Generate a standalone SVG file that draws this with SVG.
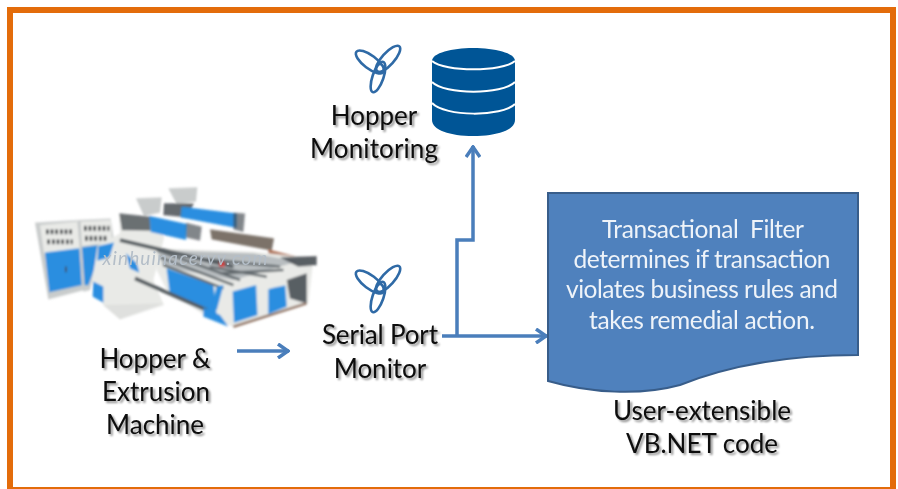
<svg xmlns="http://www.w3.org/2000/svg" width="898" height="489" viewBox="0 0 898 489">
<style>
.lb{font-family:Lato,"Open Sans",sans-serif;font-size:26px;fill:#0a0a0a;text-anchor:middle;filter:url(#sh)}
.wt{font-family:Lato,"Open Sans",sans-serif;font-size:24.5px;fill:#eef3f9;text-anchor:middle;white-space:pre}
.cn{fill:none;stroke:#4a7ebb;stroke-width:3.5}
.kn{fill:none;stroke:#2f6aa6;stroke-width:2.6}
.bl{fill:#2a8ee0}.gy{fill:#c9cccc}.wh{fill:#e9eae7}.dk{fill:#3f454b}
</style>
<defs>
<filter id="sh" x="-10%" y="-20%" width="120%" height="150%"><feGaussianBlur in="SourceAlpha" stdDeviation="1.2"/><feOffset dx="1.5" dy="1.5"/><feComponentTransfer><feFuncA type="linear" slope="0.45"/></feComponentTransfer><feMerge><feMergeNode/><feMergeNode in="SourceGraphic"/></feMerge></filter>
<filter id="bl" filterUnits="userSpaceOnUse" x="0" y="0" width="920" height="510"><feGaussianBlur stdDeviation="3.5"/></filter>
<marker id="ah" viewBox="0 0 14 16" refX="13" refY="8" markerWidth="14" markerHeight="16" markerUnits="userSpaceOnUse" orient="auto"><path d="M2 1L12 8L2 15" fill="none" stroke="#4a7ebb" stroke-width="3.5"/></marker>
<g id="knot"><ellipse cx="-10" cy="-7" rx="17" ry="6.5" transform="rotate(37 -10 -7)" class="kn"/><ellipse cx="8" cy="-10" rx="17" ry="6" transform="rotate(-48 8 -10)" class="kn"/><ellipse cx="-2" cy="8" rx="5.5" ry="16" transform="rotate(19 -2 8)" class="kn"/><circle cx="0" cy="-1" r="3.5" fill="none" stroke="#2f6aa6" stroke-width="1.5"/></g>
</defs>
<rect width="898" height="489" fill="#fff"/>
<rect id="frame" x="10" y="10" width="883" height="480" fill="none" stroke="#e36c0a" stroke-width="6"/>

<g id="machine"><g transform="translate(20 170) scale(.33333)" filter="url(#bl)">
<path class="gy" d="M45 158L172 150L192 360L85 388Z"/><path class="wh" d="M60 165L172 155L180 240L72 250Z"/>
<path class="gy" d="M172 150L272 146L282 210L240 225L210 360L190 365Z"/><path class="wh" d="M182 155L272 150L276 215L186 228Z"/>
<path class="bl" d="M75 248L178 235L185 345L88 366Z"/><path class="bl" d="M186 232L232 226L222 300L205 345L194 345Z"/>
<path class="dk" d="M135 290h5v16h-5z"/>
<path d="M78 185h78M82 215h76M192 175h76M195 205h68" stroke="#2d3236" stroke-width="13" stroke-dasharray="8 6" fill="none"/>
<path class="wh" d="M296 130L420 150L432 205L400 330L432 405L300 448L250 405L215 335L235 225L300 190Z"/>
<path fill="#dfe0de" d="M250 405L432 400L300 448Z"/>
<path class="bl" d="M220 335L250 350L250 398L218 380Z"/><path class="bl" d="M235 228L282 218L268 262L232 272Z"/><path class="bl" d="M318 250L350 280L358 308L330 295Z"/>
<path class="gy" d="M348 85L425 82L420 128L372 138Z"/><path class="gy" d="M445 55L532 52L528 95L470 102Z"/>
<path class="dk" d="M298 130L392 140L392 182L306 180Z" opacity=".75"/><path class="dk" d="M432 100L522 100L500 142L430 135Z" opacity=".8"/>
<path class="bl" d="M388 138L500 162L498 210L392 186Z"/><path class="bl" d="M485 110L650 130L650 174L482 142Z"/>
<path class="dk" d="M498 158L545 170L540 212L498 202Z" opacity=".65"/><path class="dk" d="M640 128L675 130L670 186L640 178Z" opacity=".65"/>
<path fill="#7c7269" d="M570 178L762 205L755 242L575 208Z"/><path fill="#b0745a" d="M745 238L838 262L835 280L745 258Z"/>
<path class="wh" d="M405 235L700 245L880 265L865 400L640 470L560 440L440 360L410 300Z"/>
<path class="bl" d="M440 295L580 345L590 440L450 375Z"/>
<path fill="#b8bdc0" d="M410 240L700 250L830 275L640 330L430 290Z"/>
<path d="M410 240L660 330M420 262L640 345M430 285L610 355M560 268L780 290M570 290L740 320M600 310L790 300" stroke="#5f666a" stroke-width="7" fill="none"/>
<path d="M300 210L640 290M345 325L560 420" stroke="#555c60" stroke-width="11" fill="none"/>
<path class="bl" d="M638 365L708 345L712 435L642 458Z"/><path class="bl" d="M745 358L795 340L800 410L745 432Z"/><path class="bl" d="M550 412L600 435L625 470L550 440Z"/><path class="bl" d="M590 350L610 345L590 420L575 410Z"/>
<path class="dk" d="M800 330L860 310L860 400L810 385Z" opacity=".85"/><path class="wh" d="M722 340L800 325L802 345L725 360Z"/>
<path fill="#d23b3b" d="M598 275h16v15h-16z"/>
<path class="dk" d="M780 262L890 258L890 285L835 290Z" opacity=".85"/>
<path d="M640 470L860 400" stroke="#8a6a58" stroke-width="7" fill="none"/>
</g>
<text x="185" y="265" font-family="Lato,sans-serif" font-size="19" font-style="italic" fill="#b4bec8" text-anchor="middle" textLength="165">xinhuinacervv.com</text></g>

<g id="connectors">
<path class="cn" d="M237 351H289" marker-end="url(#ah)"/>
<path class="cn" d="M442 336H547" marker-end="url(#ah)"/>
<path class="cn" d="M457 336V240H473V146" marker-end="url(#ah)"/>
</g>

<g id="hopper-monitoring"><use href="#knot" x="380" y="69"/>
<text class="lb" x="374" y="125">Hopper</text><text class="lb" x="374" y="158" textLength="128">Monitoring</text></g>

<g id="database"><path fill="#005596" d="M432 61C432 53 452 48 473 48C495 48 515 53 515 61V120C515 130 497 136 473 136C450 136 432 130 432 120Z"/>
<path d="M432 61C445 72 502 72 515 61M432 82C445 95 502 95 515 82M432 103C445 117 502 117 515 104" fill="none" stroke="#fff" stroke-width="2"/></g>

<g id="serial-port-monitor"><use href="#knot" x="380" y="289"/>
<text class="lb" x="380" y="344" textLength="116">Serial Port</text><text class="lb" x="380" y="378">Monitor</text></g>

<g id="hopper-extrusion"><text class="lb" x="155" y="368">Hopper &amp;</text><text class="lb" x="156" y="401">Extrusion</text><text class="lb" x="155" y="434">Machine</text></g>

<g id="filter"><path fill="#4f81bd" stroke="#385d8a" stroke-width="2" d="M548 193H858V355C790 355 730 365 680 385C640 396 590 393 548 381Z"/>
<text class="wt" x="703" y="238" textLength="202">Transactional  Filter</text><text class="wt" x="702" y="268" textLength="257">determines if transaction</text><text class="wt" x="702" y="298" textLength="272">violates business rules and</text><text class="wt" x="702" y="329" textLength="226">takes remedial action.</text></g>

<g id="user-code"><text class="lb" x="702" y="420">User-extensible</text><text class="lb" x="702" y="453">VB.NET code</text></g>
</svg>
